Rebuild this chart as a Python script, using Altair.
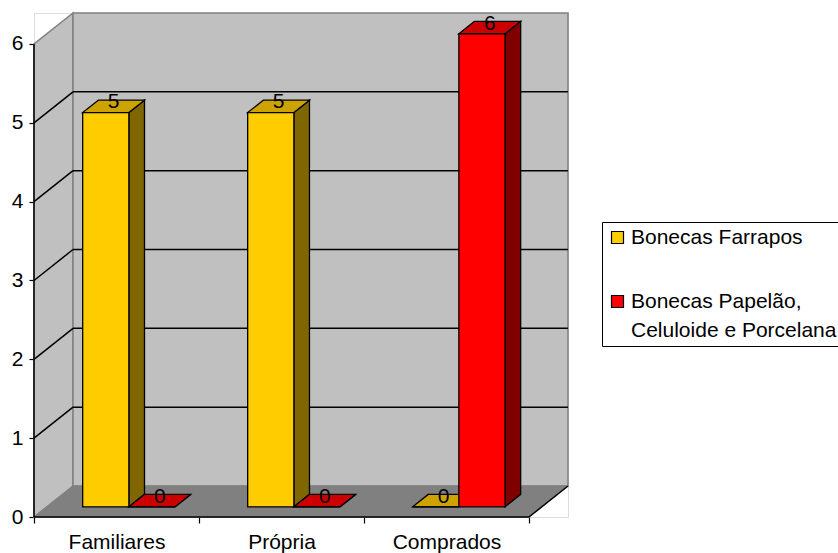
import json
import altair as alt
import pandas as pd

# ---- data -------------------------------------------------------------
categories = ["Familiares", "Própria", "Comprados"]
series = ["Bonecas Farrapos", "Bonecas Papelão, Celuloide e Porcelana"]
farrapos = [5, 5, 0]
papelao = [0, 0, 6]
y_ticks = [0, 1, 2, 3, 4, 5, 6]

front_colors = ["#FFCC00", "#FF0000"]
top_colors = ["#CCA300", "#CC0000"]
side_colors = ["#806600", "#800000"]

# ---- oblique 3-D projection (in axis units) ---------------------------
DX = 0.2365          # depth shift along x (category units)
DY = 0.393           # depth shift along y (value units)
Y_MAX = 6
BAR_W = 0.28         # bar width, category units
GAP = 0.217          # gap before first bar of a group
D_FRONT, D_BACK = 0.33, 0.73   # bar depth inside the box (fraction)

FONT = "Liberation Sans"
FS = 21

ddx = (D_BACK - D_FRONT) * DX
ddy = (D_BACK - D_FRONT) * DY
n_cat = len(categories)

bar_rows, side_rows, top_rows = [], [], []
for s, vals in enumerate([farrapos, papelao]):
    for i, v in enumerate(vals):
        bid = f"{s}-{i}"
        x0 = i + D_FRONT * DX + GAP + s * BAR_W
        x1 = x0 + BAR_W
        yb = D_FRONT * DY
        yt = yb + v
        bar_rows.append(dict(series=series[s], category=categories[i], value=v,
                             x0=x0, x1=x1, yb=yb, yt=yt,
                             lx=x0 + BAR_W / 2 + ddx / 2, ly=yt + ddy / 2))
        side_rows += [dict(id=bid, x=x1, y=yb, y2=yt, fill=side_colors[s]),
                      dict(id=bid, x=x1 + ddx, y=yb + ddy, y2=yt + ddy, fill=side_colors[s])]
        top_rows += [dict(id=bid, y=yt, x=x0, x2=x1, fill=top_colors[s]),
                     dict(id=bid, y=yt + ddy, x=x0 + ddx, x2=x1 + ddx, fill=top_colors[s])]

bars = pd.DataFrame(bar_rows)
sides = pd.DataFrame(side_rows)
tops = pd.DataFrame(top_rows)

xs = alt.Scale(domain=[0, n_cat + DX], nice=False, zero=False)
ys = alt.Scale(domain=[0, Y_MAX + DY], nice=False, zero=False)

cat_js = json.dumps(categories)
x_axis = alt.Axis(
    title=None, domain=False, grid=False,
    values=[k / 2 for k in range(2 * n_cat + 1)],
    labelExpr=f"datum.value % 1 ? {cat_js}[floor(datum.value)] : ''",
    labelFont=FONT, labelFontSize=FS, labelColor="black",
    labelOverlap=False, labelFlush=False, labelPadding=8, labelBaseline="top",
    tickSize=6, tickColor="black", tickWidth=1.2,
    tickOpacity={"condition": {"test": "datum.value % 1 != 0", "value": 0}, "value": 1},
)
y_axis = alt.Axis(
    title=None, domain=False, grid=False, values=y_ticks,
    labelFont=FONT, labelFontSize=FS, labelColor="black", labelPadding=6,
    tickSize=5, tickColor="black", tickWidth=1.2,
)


def X(f):
    return alt.X(f, type="quantitative", scale=xs, axis=x_axis)


def Y(f):
    return alt.Y(f, type="quantitative", scale=ys, axis=y_axis)


# ---- walls and floor ---------------------------------------------------
left_wall = alt.Chart(pd.DataFrame({"x": [0, DX], "y": [0, DY], "y2": [Y_MAX, Y_MAX + DY]})).mark_area(
    orient="vertical", fill="#C0C0C0", stroke="#808080", strokeWidth=1.5
).encode(x=X("x"), y=Y("y"), y2="y2")

back_wall = alt.Chart(pd.DataFrame({"x": [DX], "x2": [n_cat + DX], "y": [DY], "y2": [Y_MAX + DY]})).mark_rect(
    fill="#C0C0C0", stroke="#808080", strokeWidth=1.5
).encode(x=X("x"), x2="x2", y=Y("y"), y2="y2")

floor = alt.Chart(pd.DataFrame({"y": [0, DY], "x": [0, DX], "x2": [n_cat, n_cat + DX]})).mark_area(
    orient="horizontal", fill="#808080", stroke="#808080", strokeWidth=1
).encode(y=Y("y"), x=X("x"), x2="x2")

grid_back = alt.Chart(pd.DataFrame({"k": y_ticks[1:-1]})).transform_calculate(
    y=f"datum.k + {DY}", x=f"{DX}", x2=f"{n_cat + DX}"
).mark_rule(color="black", strokeWidth=1.5).encode(x=X("x:Q"), x2="x2:Q", y=Y("y:Q"))

grid_side = alt.Chart(pd.DataFrame({"k": y_ticks[1:-1]})).transform_calculate(
    y2=f"datum.k + {DY}", x="0", x2=f"{DX}"
).mark_rule(color="black", strokeWidth=1.5).encode(x=X("x:Q"), x2="x2:Q", y=Y("k:Q"), y2="y2:Q")

# front edges of the box: value axis line, category axis line, floor corner
edges = alt.Chart(pd.DataFrame({
    "x": [0, 0, n_cat], "x2": [0, n_cat, n_cat + DX],
    "y": [0, 0, 0], "y2": [Y_MAX, 0, DY],
})).mark_rule(color="black", strokeWidth=1.5).encode(x=X("x"), x2="x2", y=Y("y"), y2="y2")

# ---- bars --------------------------------------------------------------
side_faces = alt.Chart(sides).mark_area(orient="vertical", stroke="black", strokeWidth=1.3).encode(
    x=X("x"), y=Y("y"), y2="y2", detail="id:N", fill=alt.Fill("fill:N", scale=None)
)
top_faces = alt.Chart(tops).mark_area(orient="horizontal", stroke="black", strokeWidth=1.3).encode(
    y=Y("y"), x=X("x"), x2="x2", detail="id:N", fill=alt.Fill("fill:N", scale=None)
)
front_faces = alt.Chart(bars).mark_rect(stroke="black", strokeWidth=1.3).encode(
    x=X("x0"), x2="x1", y=Y("yb"), y2="yt",
    color=alt.Color(
        "series:N",
        scale=alt.Scale(domain=series, range=front_colors),
        legend=alt.Legend(
            orient="none", legendX=568, legendY=209, title=None,
            symbolType="square", symbolSize=144, symbolStrokeColor="black",
            symbolStrokeWidth=1.2, symbolOpacity=1,
            labelFont=FONT, labelFontSize=FS, labelColor="black", labelLimit=500,
            labelExpr="split(replace(datum.label, ', ', ',|'), '|')",
            labelOffset=3, rowPadding=42, padding=5,
            strokeColor="black", fillColor="white",
        ),
    ),
)
value_labels = alt.Chart(bars).mark_text(
    font=FONT, fontSize=FS, color="black", align="center", baseline="alphabetic", dy=2
).encode(x=X("lx"), y=Y("ly"), text="value:Q")

chart = alt.layer(
    left_wall, back_wall, floor, grid_back, grid_side, edges,
    side_faces, top_faces, front_faces, value_labels,
).properties(
    width=534, height=504,
    padding={"left": 34, "top": 13, "right": 270, "bottom": 36},
    autosize=alt.AutoSizeParams(type="none"),
    background="white",
).configure_view(stroke=None).configure(style={"guide-label": {"lineHeight": 29}})

chart.save("out.html", embed_options={"renderer": "svg", "actions": False})
